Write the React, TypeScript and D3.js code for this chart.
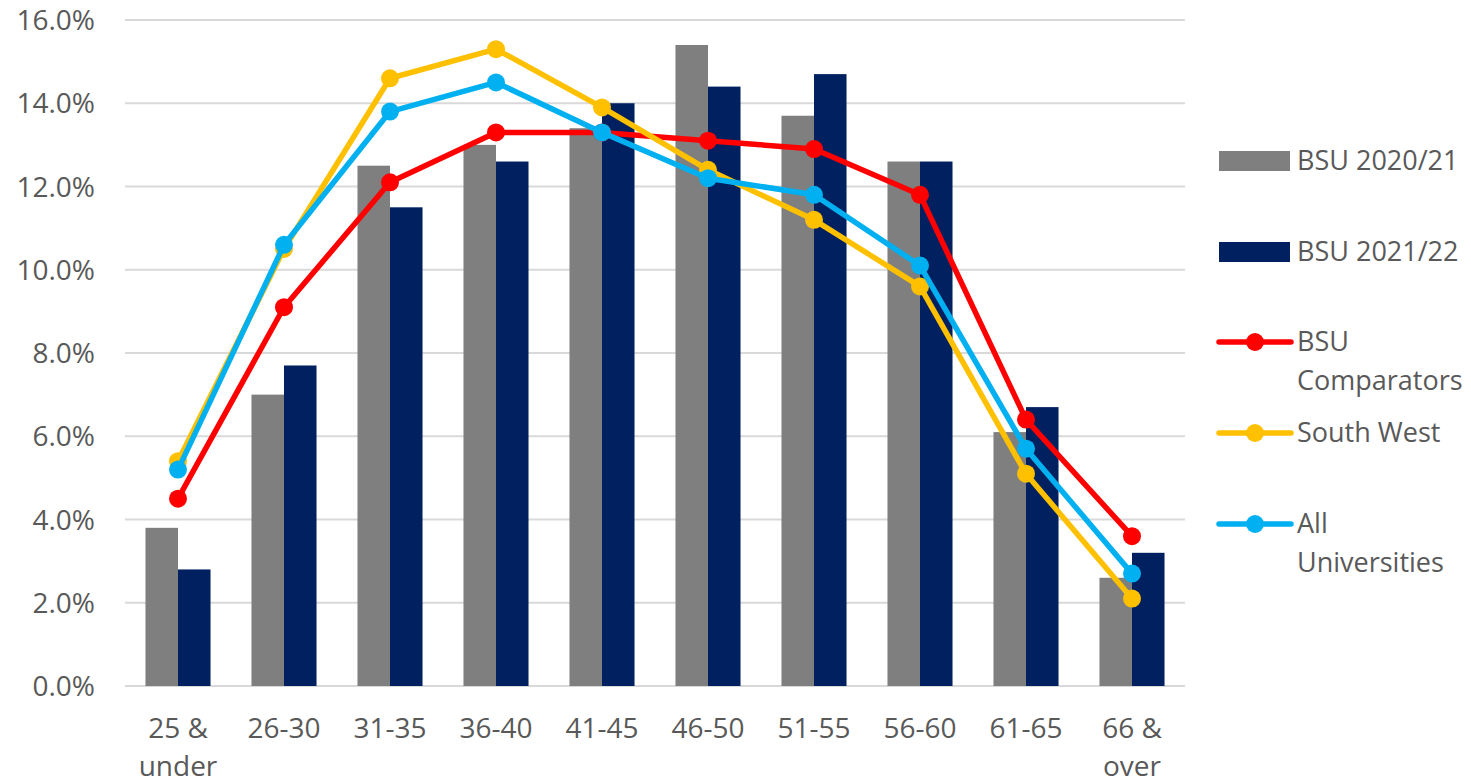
import React from "react";
import * as d3 from "d3";

const categories = ["25 &\nunder", "26-30", "31-35", "36-40", "41-45", "46-50", "51-55", "56-60", "61-65", "66 &\nover"];
const bsu2021 = [3.8, 7.0, 12.5, 13.0, 13.4, 15.4, 13.7, 12.6, 6.1, 2.6];
const bsu2122 = [2.8, 7.7, 11.5, 12.6, 14.0, 14.4, 14.7, 12.6, 6.7, 3.2];
const comparators = [4.5, 9.1, 12.1, 13.3, 13.3, 13.1, 12.9, 11.8, 6.4, 3.6];
const southWest = [5.4, 10.5, 14.6, 15.3, 13.9, 12.4, 11.2, 9.6, 5.1, 2.1];
const allUnis = [5.2, 10.6, 13.8, 14.5, 13.3, 12.2, 11.8, 10.1, 5.7, 2.7];
const yTicks = [0, 2, 4, 6, 8, 10, 12, 14, 16];

const barSeries = [
  { name: "BSU 2020/21", values: bsu2021, color: "#7F7F7F" },
  { name: "BSU 2021/22", values: bsu2122, color: "#002060" },
];
const lineSeries = [
  { name: "BSU\nComparators", values: comparators, color: "#FF0000" },
  { name: "South West", values: southWest, color: "#FFC000" },
  { name: "All\nUniversities", values: allUnis, color: "#00B0F0" },
];

const W = 1471;
const H = 783;
const TXT = "#595959";
const FONT = "'Open Sans', sans-serif";

export default function App() {
  const x = d3.scaleBand<string>().domain(categories).range([125, 1185]).paddingInner(0).paddingOuter(0);
  const xSub = d3.scaleBand<string>().domain(barSeries.map((s) => s.name)).range([0, x.bandwidth()]).paddingInner(0).paddingOuter(0.63);
  const y = d3.scaleLinear().domain([0, 16]).range([686, 20]);
  const cx = (c: string) => (x(c) as number) + x.bandwidth() / 2;
  const line = d3.line<number>().x((_, i) => cx(categories[i])).y((v) => y(v));

  const legendItems = [
    { s: barSeries[0], type: "bar", y: 161 },
    { s: barSeries[1], type: "bar", y: 252 },
    { s: lineSeries[0], type: "line", y: 342 },
    { s: lineSeries[1], type: "line", y: 433 },
    { s: lineSeries[2], type: "line", y: 524 },
  ];

  return (
    <div style={{ position: "absolute", left: 0, top: 0 }}>
      <svg width={W} height={H} style={{ display: "block", background: "#fff" }}>
        {yTicks.map((t) => (
          <g key={t}>
            <line x1={125} x2={1185} y1={y(t)} y2={y(t)} stroke="#D9D9D9" strokeWidth={2} />
            <text x={95} y={y(t)} dy="0.36em" textAnchor="end" fontFamily={FONT} fontSize={28} fill={TXT}>
              {t.toFixed(1) + "%"}
            </text>
          </g>
        ))}
        {barSeries.map((s) =>
          s.values.map((v, i) => (
            <rect
              key={s.name + i}
              x={(x(categories[i]) as number) + (xSub(s.name) as number)}
              y={y(v)}
              width={xSub.bandwidth()}
              height={y(0) - y(v)}
              fill={s.color}
            />
          ))
        )}
        {lineSeries.map((s) => (
          <g key={s.name}>
            <path d={line(s.values) || ""} fill="none" stroke={s.color} strokeWidth={5.5} strokeLinejoin="round" />
            {s.values.map((v, i) => (
              <circle key={i} cx={cx(categories[i])} cy={y(v)} r={9} fill={s.color} />
            ))}
          </g>
        ))}
        {categories.map((c) => (
          <text key={c} x={cx(c)} y={738} textAnchor="middle" fontFamily={FONT} fontSize={28} fill={TXT}>
            {c.split("\n").map((ln, k) => (
              <tspan key={k} x={cx(c)} dy={k === 0 ? 0 : 38}>
                {ln}
              </tspan>
            ))}
          </text>
        ))}
        {legendItems.map((it) => (
          <g key={it.s.name}>
            {it.type === "bar" ? (
              <rect x={1219} y={it.y - 10} width={71} height={20} fill={it.s.color} />
            ) : (
              <g>
                <line x1={1219} x2={1291} y1={it.y} y2={it.y} stroke={it.s.color} strokeWidth={5.5} strokeLinecap="round" />
                <circle cx={1255} cy={it.y} r={9} fill={it.s.color} />
              </g>
            )}
            <text x={1297} y={it.y + 9} fontFamily={FONT} fontSize={27} fill={TXT}>
              {it.s.name.split("\n").map((ln, k) => (
                <tspan key={k} x={1297} dy={k === 0 ? 0 : 39}>
                  {ln}
                </tspan>
              ))}
            </text>
          </g>
        ))}
      </svg>
    </div>
  );
}
